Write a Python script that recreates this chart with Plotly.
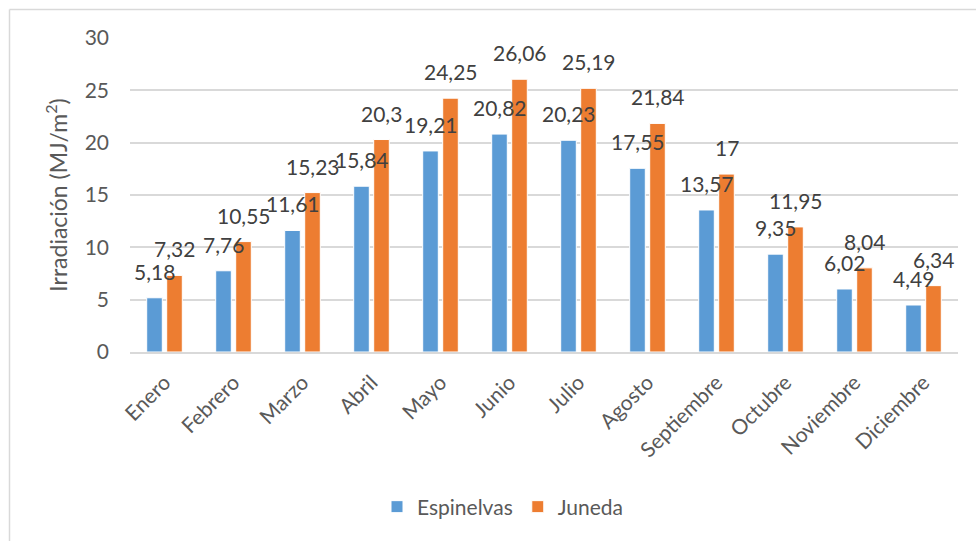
import plotly.graph_objects as go

# Monthly mean daily solar irradiation at two stations (MJ/m²)
months = ["Enero", "Febrero", "Marzo", "Abril", "Mayo", "Junio", "Julio",
          "Agosto", "Septiembre", "Octubre", "Noviembre", "Diciembre"]
espinelvas = [5.18, 7.76, 11.61, 15.84, 19.21, 20.82, 20.23, 17.55, 13.57, 9.35, 6.02, 4.49]
juneda = [7.32, 10.55, 15.23, 20.3, 24.25, 26.06, 25.19, 21.84, 17, 11.95, 8.04, 6.34]
y_ticks = [0, 5, 10, 15, 20, 25, 30]

BLUE = "#5B9BD5"
ORANGE = "#ED7D31"
TEXT = "#595959"
GRID = "#D9D9D9"
FONT = "Lato"


def fmt(v):
    # decimal comma, no trailing zeros
    return ("%g" % v).replace(".", ",")


fig = go.Figure()
fig.add_trace(go.Bar(name="Espinelvas", x=months, y=espinelvas,
                     marker=dict(color=BLUE, line=dict(color="white", width=1))))
fig.add_trace(go.Bar(name="Juneda", x=months, y=juneda,
                     marker=dict(color=ORANGE, line=dict(color="white", width=1))))

# value labels above each bar
annotations = []
for series, shift in ((espinelvas, -10), (juneda, 10)):
    for m, v in zip(months, series):
        annotations.append(dict(x=m, y=v, xref="x", yref="y", text=fmt(v),
                                showarrow=False, xshift=shift, yshift=12,
                                yanchor="bottom", xanchor="center",
                                font=dict(family=FONT, size=21, color="#404040")))

W, H = 976, 541
L, R, T, B = 130, 18, 38, 189
pw, ph = W - L - R, H - T - B


def px_x(p):
    return (p - L) / pw


def px_y(p):
    return (H - B - p) / ph


# outer chart frame (top and left edges visible)
shapes = [
    dict(type="line", xref="paper", yref="paper", x0=px_x(9.5), x1=px_x(W + 5),
         y0=px_y(9.5), y1=px_y(9.5), line=dict(color=GRID, width=1.5)),
    dict(type="line", xref="paper", yref="paper", x0=px_x(9.5), x1=px_x(9.5),
         y0=px_y(9.5), y1=px_y(H + 5), line=dict(color=GRID, width=1.5)),
]

fig.update_layout(
    width=W, height=H,
    margin=dict(l=L, r=R, t=T, b=B, autoexpand=False),
    paper_bgcolor="white", plot_bgcolor="white",
    barmode="group", bargap=0.42, bargroupgap=0.22,
    font=dict(family=FONT, size=21, color=TEXT),
    showlegend=True,
    legend=dict(orientation="h", x=px_x(503), xanchor="center",
                y=px_y(507), yanchor="middle", font=dict(size=21, color=TEXT),
                itemwidth=30, bgcolor="rgba(0,0,0,0)"),
    annotations=annotations,
    shapes=shapes,
)

fig.update_yaxes(range=[0, 30], tickvals=y_ticks, showgrid=True, gridcolor=GRID,
                 gridwidth=1.5, zeroline=False, showline=False,
                 ticklabelstandoff=20, tickfont=dict(size=21, color=TEXT),
                 title=dict(text="Irradiación (MJ/m<sup>2</sup>)", standoff=10,
                            font=dict(size=23, color=TEXT)),
                 automargin=False)
fig.update_xaxes(showline=True, linecolor=GRID, linewidth=2, tickangle=-45,
                 ticklabelstandoff=8, tickfont=dict(size=21, color=TEXT),
                 showgrid=False, automargin=False)

fig.write_html("out.html")
